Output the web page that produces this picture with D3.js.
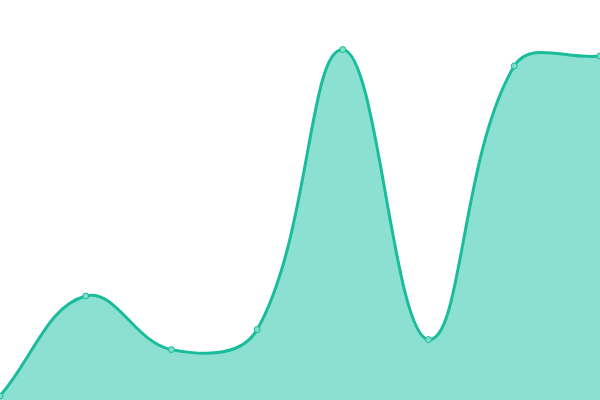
<!DOCTYPE html>
<html>
<head>
<meta charset="utf-8">
<script src="https://cdn.jsdelivr.net/npm/d3@7"></script>
<style>
html,body{margin:0;padding:0;background:#fff;overflow:hidden}
svg{display:block}
</style>
</head>
<body>
<svg id="chart" width="600" height="400"></svg>
<script>

// data
var labels = ['1','2','3','4','5','6','7','8'];
var values = [1, 26, 12.6, 17.6, 87.6, 15.1, 83.5, 86];

var lineColor = '#1abc9c',
		fillColor = '#8be0d1';

//------------------------------------------------------------------
// chart.js-like spline (tension .4, distance weighted)
//------------------------------------------------------------------
function splineCurve(tension)	{
	return function(context)	{
		var pts = [];
		return {
			areaStart:function(){ this._line = 0 },
			areaEnd:function(){ this._line = NaN },
			lineStart:function(){ pts = [] },
			point:function(x,y){ pts.push([+x,+y]) },
			lineEnd:function(){
				var n = pts.length;
				if (n)	{
					var cps = pts.map(function(p,i){
						var prev = pts[i-1] || p, next = pts[i+1] || p,
								d01 = Math.hypot(p[0]-prev[0], p[1]-prev[1]),
								d12 = Math.hypot(next[0]-p[0], next[1]-p[1]),
								s = d01 + d12 || 1,
								fa = tension*d01/s, fb = tension*d12/s;
						return {
							prev:[ p[0]-fa*(next[0]-prev[0]), p[1]-fa*(next[1]-prev[1]) ],
							next:[ p[0]+fb*(next[0]-prev[0]), p[1]+fb*(next[1]-prev[1]) ],
						};
					});
					if (this._line) context.lineTo(pts[0][0], pts[0][1]);
					else context.moveTo(pts[0][0], pts[0][1]);
					for (var i=1;i<n;i++)	{
						context.bezierCurveTo(cps[i-1].next[0], cps[i-1].next[1], cps[i].prev[0], cps[i].prev[1], pts[i][0], pts[i][1]);
					}
				}
				if (this._line) context.closePath();
				this._line = 1 - this._line;
			}
		};
	};
}

var w = 600, h = 400;

var x = d3.scalePoint().domain(labels).range([0, w]),
		y = d3.scaleLinear().domain([0, 100]).range([h, 0]);

var svg = d3.select('#chart');

var curve = splineCurve(0.4);

var line = d3.line()
	.x((d,i)=>x(labels[i]))
	.y(d=>y(d))
	.curve(curve);

var area = d3.area()
	.x((d,i)=>x(labels[i]))
	.y0(h)
	.y1(d=>y(d))
	.curve(curve);

svg.append('path')
	.datum(values)
	.attr('d', area)
	.attr('fill', fillColor);

svg.append('path')
	.datum(values)
	.attr('d', line)
	.attr('fill', 'none')
	.attr('stroke', lineColor)
	.attr('stroke-width', 3);

svg.selectAll('.pt').data(values)
	.enter()
		.append('circle')
			.attr('class', 'pt')
			.attr('cx', (d,i)=>x(labels[i]))
			.attr('cy', d=>y(d))
			.attr('r', 3)
			.attr('fill', '#7fdcca')
			.attr('stroke', lineColor)
			.attr('stroke-width', 1);

</script>
</body>
</html>
